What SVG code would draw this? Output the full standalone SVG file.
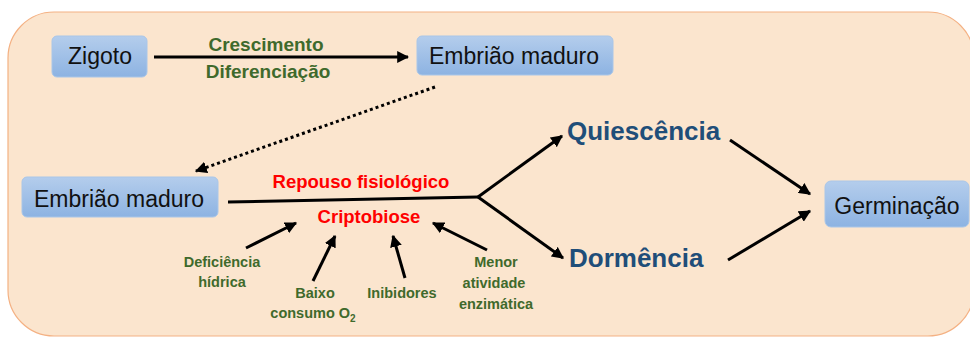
<svg xmlns="http://www.w3.org/2000/svg" width="970" height="338" viewBox="0 0 970 338">
<defs>
<linearGradient id="nodeGrad" x1="0" y1="0" x2="0" y2="1">
<stop offset="0" stop-color="#B4CDEC"/>
<stop offset="1" stop-color="#8DB3E2"/>
</linearGradient>
<marker id="ah" viewBox="0 0 10 10" refX="9" refY="5" markerWidth="4" markerHeight="4" orient="auto" markerUnits="strokeWidth">
<path d="M0,0 L10,5 L0,10 Z" fill="#000"/>
</marker>
</defs>
<style>
.node rect{fill:url(#nodeGrad);stroke:#A9C6E8;stroke-width:1}
.node text{font-family:"Liberation Sans",Arial,sans-serif;font-size:23px;fill:#111;text-anchor:middle}
.conn line,.conn path,.conn polyline{stroke:#000;stroke-width:3;fill:none}
.arr{marker-end:url(#ah)}
.green{font-family:"Liberation Sans",Arial,sans-serif;font-weight:bold;fill:#3F6A2C;text-anchor:middle}
.red{font-family:"Liberation Sans",Arial,sans-serif;font-weight:bold;font-size:18.5px;fill:#FF0000;text-anchor:middle}
.blue{font-family:"Liberation Sans",Arial,sans-serif;font-weight:bold;font-size:26px;fill:#1F4E79}
</style>
<rect x="8" y="12" width="966" height="324" rx="46" fill="#FBE5CE" stroke="#F4B183" stroke-width="1.2"/>

<g class="conn">
<line class="arr" x1="154" y1="57" x2="408" y2="57" stroke-width="2.5"/>
<line class="arr" x1="435" y1="87" x2="196" y2="171" stroke-dasharray="3,3"/>
<polyline points="228,202 478,197"/>
<line class="arr" x1="478" y1="197" x2="562" y2="136"/>
<line class="arr" x1="478" y1="197" x2="563" y2="258"/>
<line class="arr" x1="730" y1="140" x2="810" y2="194"/>
<line class="arr" x1="728" y1="260" x2="810" y2="211"/>
<line class="arr" x1="246" y1="248" x2="296" y2="223"/>
<line class="arr" x1="313" y1="281" x2="335" y2="236"/>
<line class="arr" x1="405" y1="278" x2="393" y2="236"/>
<line class="arr" x1="487" y1="250" x2="433" y2="223"/>
</g>

<g id="zigoto" class="node">
<rect x="52" y="36" width="95" height="41" rx="5"/>
<text x="100" y="64">Zigoto</text>
</g>
<g id="embriao-top" class="node">
<rect x="417" y="36" width="196" height="39" rx="5"/>
<text x="514" y="64">Embrião maduro</text>
</g>
<g id="embriao-bottom" class="node">
<rect x="22" y="177" width="196" height="40" rx="5"/>
<text x="119" y="207">Embrião maduro</text>
</g>
<g id="germinacao" class="node">
<rect x="825" y="181" width="144" height="46" rx="6"/>
<text x="897" y="214">Germinação</text>
</g>
<g id="quiescencia">
<text class="blue" x="567" y="140">Quiescência</text>
</g>
<g id="dormencia">
<text class="blue" x="569" y="267">Dormência</text>
</g>

<g id="labels">
<text class="green" x="266" y="51" font-size="19">Crescimento</text>
<text class="green" x="268" y="78" font-size="19">Diferenciação</text>
<text class="red" x="361" y="188">Repouso fisiológico</text>
<text class="red" x="369" y="223">Criptobiose</text>
<text class="green" font-size="14.5" x="222" y="267">Deficiência</text>
<text class="green" font-size="14.5" x="222" y="287">hídrica</text>
<text class="green" font-size="14.5" x="315" y="298">Baixo</text>
<text class="green" font-size="14.5" x="313" y="318">consumo O<tspan font-size="10" dy="4">2</tspan></text>
<text class="green" font-size="14.5" x="402" y="298">Inibidores</text>
<text class="green" font-size="14.5" x="496" y="267">Menor</text>
<text class="green" font-size="14.5" x="494" y="288">atividade</text>
<text class="green" font-size="14.5" x="496" y="309">enzimática</text>
</g>
</svg>
